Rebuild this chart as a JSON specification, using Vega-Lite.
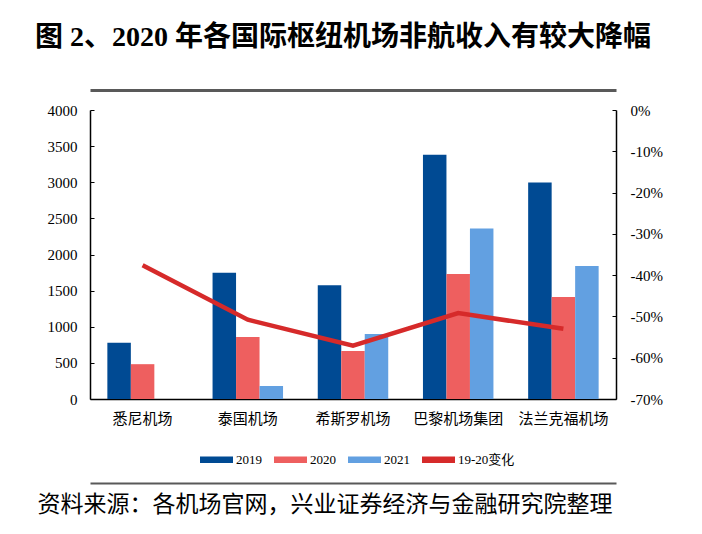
{
  "$schema": "https://vega.github.io/schema/vega-lite/v6.json",
  "width": 526,
  "height": 289,
  "autosize": {"type": "none"},
  "padding": {"left": 90, "top": 110, "right": 86, "bottom": 135},
  "background": "white",
  "title": {
    "text": "图 2、2020 年各国际枢纽机场非航收入有较大降幅",
    "anchor": "start",
    "frame": "group",
    "dx": -55,
    "offset": 38,
    "font": "Liberation Serif, Noto Sans CJK SC",
    "fontSize": 28,
    "fontWeight": "bold",
    "color": "black"
  },
  "datasets": {
    "revenue": [
      {"airport": "悉尼机场", "year": "2019", "value": 780},
      {"airport": "悉尼机场", "year": "2020", "value": 482},
      {"airport": "泰国机场", "year": "2019", "value": 1748},
      {"airport": "泰国机场", "year": "2020", "value": 858},
      {"airport": "泰国机场", "year": "2021", "value": 180},
      {"airport": "希斯罗机场", "year": "2019", "value": 1575},
      {"airport": "希斯罗机场", "year": "2020", "value": 665},
      {"airport": "希斯罗机场", "year": "2021", "value": 900},
      {"airport": "巴黎机场集团", "year": "2019", "value": 3380},
      {"airport": "巴黎机场集团", "year": "2020", "value": 1730},
      {"airport": "巴黎机场集团", "year": "2021", "value": 2360},
      {"airport": "法兰克福机场", "year": "2019", "value": 2995},
      {"airport": "法兰克福机场", "year": "2020", "value": 1412},
      {"airport": "法兰克福机场", "year": "2021", "value": 1840}
    ],
    "change": [
      {"airport": "悉尼机场", "change": -0.376},
      {"airport": "泰国机场", "change": -0.508},
      {"airport": "希斯罗机场", "change": -0.571},
      {"airport": "巴黎机场集团", "change": -0.492},
      {"airport": "法兰克福机场", "change": -0.53}
    ]
  },
  "layer": [
    {
      "data": {"name": "revenue"},
      "mark": {"type": "bar"},
      "encoding": {
        "x": {
          "field": "airport",
          "type": "nominal",
          "sort": ["悉尼机场", "泰国机场", "希斯罗机场", "巴黎机场集团", "法兰克福机场"],
          "scale": {"paddingInner": 0.33, "paddingOuter": 0.165},
          "axis": {
            "title": null,
            "labelAngle": 0,
            "ticks": false,
            "labelPadding": 12,
            "labelFont": "Liberation Serif, Noto Sans CJK SC",
            "labelFontSize": 15,
            "labelColor": "black",
            "domainColor": "black",
            "domainWidth": 1.5
          }
        },
        "xOffset": {
          "field": "year",
          "type": "nominal",
          "scale": {"domain": ["2019", "2020", "2021"], "paddingInner": 0, "paddingOuter": 0}
        },
        "y": {
          "field": "value",
          "type": "quantitative",
          "scale": {"domain": [0, 4000], "nice": false},
          "axis": {
            "orient": "left",
            "title": null,
            "values": [0, 500, 1000, 1500, 2000, 2500, 3000, 3500, 4000],
            "format": "d",
            "tickSize": -4,
            "tickColor": "black",
            "domainColor": "black",
            "domainWidth": 1.5,
            "labelPadding": 17,
            "labelFont": "Liberation Serif",
            "labelFontSize": 15,
            "labelColor": "black"
          }
        },
        "color": {
          "field": "year",
          "type": "nominal",
          "scale": {
            "domain": ["2019", "2020", "2021", "19-20变化"],
            "range": ["#004A93", "#EE5F5F", "#62A0E1", "#D62A2A"]
          },
          "legend": {
            "orient": "none",
            "legendX": 110,
            "legendY": 333,
            "direction": "horizontal",
            "title": null,
            "symbolType": "M-1,-0.2H1V0.2H-1Z",
            "symbolSize": 1089,
            "symbolStrokeWidth": 0,
            "labelFont": "Liberation Serif, Noto Sans CJK SC",
            "labelFontSize": 13,
            "labelColor": "black",
            "labelOffset": 3,
            "columnPadding": 12,
            "padding": 0
          }
        }
      }
    },
    {
      "data": {"name": "change"},
      "mark": {"type": "line", "strokeWidth": 4.5},
      "encoding": {
        "x": {
          "field": "airport",
          "type": "nominal",
          "sort": ["悉尼机场", "泰国机场", "希斯罗机场", "巴黎机场集团", "法兰克福机场"],
          "axis": {
            "orient": "top",
            "offset": 20,
            "labels": false,
            "ticks": false,
            "title": null,
            "domainColor": "#595959",
            "domainWidth": 3
          }
        },
        "y": {
          "field": "change",
          "type": "quantitative",
          "scale": {"domain": [-0.7, 0], "nice": false},
          "axis": {
            "orient": "right",
            "title": null,
            "values": [-0.7, -0.6, -0.5, -0.4, -0.3, -0.2, -0.1, 0],
            "format": ".0%",
            "labelExpr": "replace(datum.label, '−', '-')",
            "tickSize": -4,
            "tickColor": "black",
            "domainColor": "black",
            "domainWidth": 1.5,
            "labelPadding": 18,
            "labelFont": "Liberation Serif",
            "labelFontSize": 15,
            "labelColor": "black"
          }
        },
        "color": {"datum": "19-20变化", "type": "nominal"}
      }
    },
    {
      "data": {"name": "change"},
      "mark": {"type": "line", "opacity": 0},
      "encoding": {
        "x": {
          "field": "airport",
          "type": "nominal",
          "sort": ["悉尼机场", "泰国机场", "希斯罗机场", "巴黎机场集团", "法兰克福机场"],
          "axis": {
            "orient": "bottom",
            "offset": 84,
            "labels": false,
            "ticks": false,
            "domainColor": "#595959",
            "domainWidth": 2,
            "title": "资料来源：各机场官网，兴业证券经济与金融研究院整理",
            "titleX": -53,
            "titleY": 10,
            "titleAlign": "left",
            "titleBaseline": "top",
            "titleFont": "Liberation Serif, Noto Sans CJK SC",
            "titleFontSize": 23,
            "titleFontWeight": "normal",
            "titleColor": "black"
          }
        },
        "y": {
          "field": "change",
          "type": "quantitative",
          "scale": {"domain": [-0.7, 0], "nice": false},
          "axis": null
        }
      }
    }
  ],
  "resolve": {"scale": {"y": "independent"}, "axis": {"x": "independent"}},
  "config": {
    "view": {"stroke": null},
    "axis": {"grid": false}
  }
}
